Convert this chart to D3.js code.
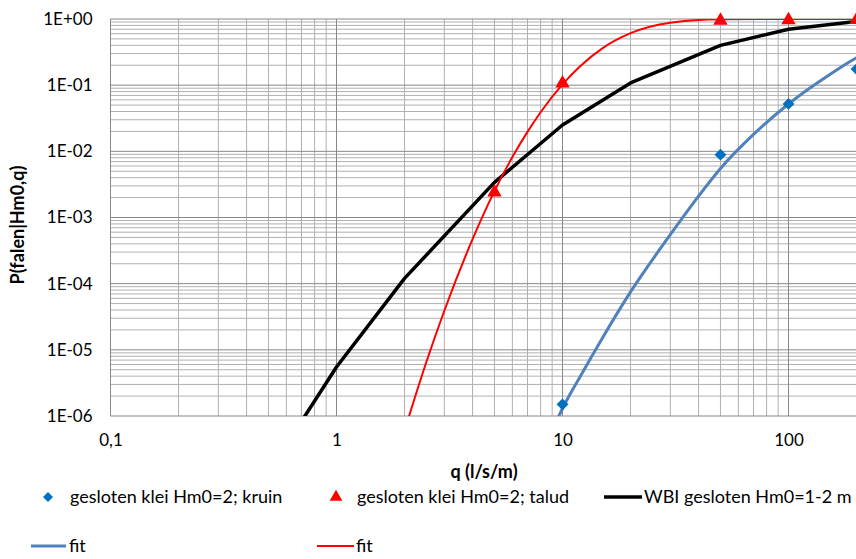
<!DOCTYPE html>
<html><head><meta charset="utf-8">
<script src="https://cdn.jsdelivr.net/npm/d3@7"></script>
<style>html,body{margin:0;padding:0;background:#fff;overflow:hidden}svg{display:block}text{font-family:Lato,"Open Sans",sans-serif;fill:#000}</style>
</head><body>
<svg id="c" width="856" height="559"></svg>
<script>
// ---- data ----
const yTicks = [1e-6, 1e-5, 1e-4, 1e-3, 1e-2, 1e-1, 1];
const yTickLabels = ["1E-06", "1E-05", "1E-04", "1E-03", "1E-02", "1E-01", "1E+00"];
const xTicks = [0.1, 1, 10, 100];
const xTickLabels = ["0,1", "1", "10", "100"];

const kruinQ = [10, 50, 100, 200];
const kruinP = [1.5e-6, 8.9e-3, 5.2e-2, 0.175];

const taludQ = [5, 10, 50, 100, 200];
const taludP = [2.4e-3, 0.107, 0.95, 0.96, 0.97];

const wbiQ = [0.5, 1, 2, 5, 10, 20, 50, 100, 200];
const wbiP = [1.4e-7, 5.5e-6, 1.2e-4, 3.4e-3, 2.5e-2, 0.108, 0.40, 0.70, 0.92];

const fitKruinQ = [9, 10, 12, 15, 20, 30, 40, 50, 70, 100, 150, 200, 250];
const fitKruinP = [6e-7, 1.3e-6, 4e-6, 1.5e-5, 7.5e-5, 5.5e-4, 2.1e-3, 5.5e-3, 1.8e-2, 5.2e-2, 0.14, 0.26, 0.37];

const fitTaludQ = [2, 2.5, 3, 4, 5, 6, 7, 8, 10, 12, 15, 20, 30, 50, 100, 200, 300];
const fitTaludP = [6e-7, 6.6e-6, 3.9e-5, 4.7e-4, 2.5e-3, 8.2e-3, 0.0197, 0.039, 0.103, 0.195, 0.36, 0.61, 0.88, 0.99, 0.9999, 1.0, 1.0];

const legendLabels = ["gesloten klei Hm0=2; kruin", "gesloten klei Hm0=2; talud", "WBI gesloten Hm0=1-2 m", "fit", "fit"];

// ---- chart ----
const svg = d3.select("#c");
const L = 110.5, T = 19, B = 416, R = 856;
const x = d3.scaleLog().domain([0.1, 1000]).range([L, L + 4 * 226]);
const y = d3.scaleLog().domain([1e-6, 1]).range([B, T]);

svg.append("defs").append("clipPath").attr("id", "pc")
  .append("rect").attr("x", L).attr("y", T).attr("width", R - L).attr("height", B - T);

const grid = svg.append("g");
for (let d = -6; d < 0; d++) {
  for (let m = 2; m <= 9; m++) {
    const v = m * Math.pow(10, d);
    grid.append("line").attr("x1", L).attr("x2", R).attr("y1", y(v)).attr("y2", y(v))
      .attr("stroke", "#b0b0b0").attr("stroke-width", 1);
  }
}
for (let d = -1; d < 3; d++) {
  for (let m = 2; m <= 9; m++) {
    const v = m * Math.pow(10, d);
    if (x(v) > R) continue;
    grid.append("line").attr("y1", T).attr("y2", B).attr("x1", x(v)).attr("x2", x(v))
      .attr("stroke", "#b0b0b0").attr("stroke-width", 1);
  }
}
yTicks.forEach(v => grid.append("line").attr("x1", L).attr("x2", R).attr("y1", y(v)).attr("y2", y(v))
  .attr("stroke", "#888").attr("stroke-width", 1));
xTicks.forEach(v => grid.append("line").attr("y1", T).attr("y2", B).attr("x1", x(v)).attr("x2", x(v))
  .attr("stroke", "#888").attr("stroke-width", 1));

const yAxis = d3.axisLeft(y).tickValues(yTicks).tickFormat((d, i) => yTickLabels[i]).tickSize(0).tickPadding(18);
const ya = svg.append("g").attr("transform", `translate(${L},0)`).call(yAxis);
ya.select(".domain").remove();
ya.selectAll("text").style("font-size", "17px").style("font-family", "Lato").attr("fill", "#000");

const xAxis = d3.axisBottom(x).tickValues(xTicks).tickFormat((d, i) => xTickLabels[i]).tickSize(0).tickPadding(18);
const xa = svg.append("g").attr("transform", `translate(0,${B})`).call(xAxis);
xa.select(".domain").remove();
xa.selectAll("text").style("font-size", "17px").style("font-family", "Lato").attr("fill", "#000");

svg.append("text").attr("x", 484).attr("y", 478).attr("text-anchor", "middle")
  .style("font-size", "18px").style("font-weight", "bold").text("q (l/s/m)");
svg.append("text").attr("transform", "translate(24,225) rotate(-90)").attr("text-anchor", "middle")
  .style("font-size", "18px").style("font-weight", "bold").text("P(falen|Hm0,q)");

const line = d3.line().x(d => x(d[0])).y(d => y(d[1]));
const plot = svg.append("g").attr("clip-path", "url(#pc)");

plot.append("path").datum(wbiQ.map((q, i) => [q, wbiP[i]]))
  .attr("d", line.curve(d3.curveLinear)).attr("fill", "none").attr("stroke", "#000").attr("stroke-width", 3.5)
  .attr("stroke-linejoin", "round");
plot.append("path").datum(fitKruinQ.map((q, i) => [q, fitKruinP[i]]))
  .attr("d", line.curve(d3.curveMonotoneX)).attr("fill", "none").attr("stroke", "#4f81bd").attr("stroke-width", 3);
plot.append("path").datum(fitTaludQ.map((q, i) => [q, fitTaludP[i]]))
  .attr("d", line.curve(d3.curveMonotoneX)).attr("fill", "none").attr("stroke", "#ff0000").attr("stroke-width", 2);

const diamond = d3.symbol().type(d3.symbolSquare).size(70);
const tri = d3.symbol().type(d3.symbolTriangle).size(90);
svg.append("g").selectAll("path").data(kruinQ.map((q, i) => [q, kruinP[i]])).join("path")
  .attr("d", diamond).attr("transform", d => `translate(${x(d[0])},${y(d[1])}) rotate(45)`).attr("fill", "#0070c0");
svg.append("g").selectAll("path").data(taludQ.map((q, i) => [q, taludP[i]])).join("path")
  .attr("d", tri).attr("transform", d => `translate(${x(d[0])},${y(d[1])})`).attr("fill", "#ff0000");

const lg = svg.append("g").style("font-size", "18px");
lg.append("path").attr("d", d3.symbol().type(d3.symbolSquare).size(50)).attr("transform", "translate(48,497) rotate(45)").attr("fill", "#0070c0");
lg.append("text").attr("x", 70).attr("y", 503).text(legendLabels[0]);
lg.append("path").attr("d", d3.symbol().type(d3.symbolTriangle).size(70)).attr("transform", "translate(336,497)").attr("fill", "#ff0000");
lg.append("text").attr("x", 357).attr("y", 503).text(legendLabels[1]);
lg.append("line").attr("x1", 604).attr("x2", 642).attr("y1", 497).attr("y2", 497).attr("stroke", "#000").attr("stroke-width", 3.5);
lg.append("text").attr("x", 644).attr("y", 503).text(legendLabels[2]);
lg.append("line").attr("x1", 31).attr("x2", 66).attr("y1", 546).attr("y2", 546).attr("stroke", "#4f81bd").attr("stroke-width", 3);
lg.append("text").attr("x", 69).attr("y", 552).text(legendLabels[3]);
lg.append("line").attr("x1", 317).attr("x2", 354).attr("y1", 546).attr("y2", 546).attr("stroke", "#ff0000").attr("stroke-width", 2);
lg.append("text").attr("x", 356).attr("y", 552).text(legendLabels[4]);
</script>
</body></html>
